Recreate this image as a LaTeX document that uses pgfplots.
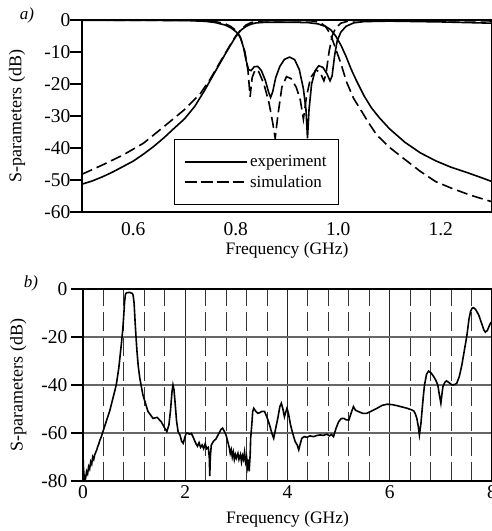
\documentclass[border=0pt]{standalone}
\usepackage{fontspec}
\setmainfont{Liberation Serif}
\usepackage{pgfplots}
\pgfplotsset{compat=1.18}
\pgfplotsset{
  myaxis/.style={
    scale only axis,
    axis line style={line width=1.3pt},
    tick label style={font=\fontsize{19.5}{22}\selectfont},
    /pgf/number format/assume math mode=true,
    tick align=outside,
    major tick length=12pt,
    ytick style={line width=1.3pt,black},
    xtick style={draw=none},
    every axis y label/.style={at={(axis description cs:-0.1585,0.5)},rotate=90,anchor=center,font=\fontsize{18}{22}\selectfont},
    every axis x label/.style={at={(axis description cs:0.5,0)},anchor=center,yshift=-38pt,font=\fontsize{17.5}{22}\selectfont},
  },
  curve/.style={black,line width=1.6pt},
  sim/.style={black,line width=1.6pt,dash pattern=on 11pt off 5pt},
}
\begin{document}
\begin{tikzpicture}[x=1pt,y=1pt]
\begin{axis}[myaxis,
  at={(82pt,319pt)}, anchor=south west, width=410pt, height=192pt,
  xmin=0.5, xmax=1.3, ymin=-60, ymax=0,
  xtick={0.6,0.8,1.0,1.2},
  xticklabel style={yshift=5pt,/pgf/number format/.cd,fixed,fixed zerofill,precision=1},
  yticklabel style={xshift=4pt},
  ytick={-60,-50,-40,-30,-20,-10,0},
  xlabel={Frequency (GHz)}, ylabel={S-parameters (dB)},
  legend style={at={(axis cs:0.6795,-57.8)}, anchor=south west, draw=black, line width=0.9pt,
    font=\fontsize{17}{20}\selectfont, inner xsep=10pt, inner ysep=14pt, row sep=3pt},
  legend cell align=left,
  legend image code/.code={\path (-1pt,0pt) -- (61pt,0pt);\draw[#1] (0pt,0pt) -- (47pt,0pt);},
]
\addplot[curve] coordinates {
(0.50,-51.3)(0.52,-50.3)(0.54,-49.0)(0.56,-47.5)(0.58,-45.8)(0.60,-44.1)(0.62,-41.9)
(0.64,-39.5)(0.66,-36.8)(0.68,-33.8)(0.70,-30.9)(0.72,-27.0)(0.74,-21.8)(0.76,-16.1)
(0.78,-10.5)(0.79,-7.8)(0.80,-5.2)(0.81,-3.2)(0.82,-2.0)(0.83,-1.3)(0.84,-0.9)(0.86,-0.7)
(0.90,-0.7)(0.94,-0.8)(0.96,-1.2)(0.975,-2.0)(0.985,-3.0)(0.995,-5.0)(1.005,-7.8)
(1.015,-11.3)(1.025,-15.3)(1.035,-18.8)(1.05,-23.6)(1.065,-27.5)(1.08,-30.5)(1.10,-34.0)
(1.13,-38.2)(1.16,-41.5)(1.19,-44.0)(1.22,-46.0)(1.25,-47.6)(1.28,-49.3)(1.30,-50.5)};
\addlegendentry{experiment}
\addplot[sim] coordinates {
(0.50,-48.2)(0.54,-45.3)(0.58,-42.2)(0.62,-38.5)(0.66,-33.3)(0.70,-28.0)(0.73,-23.2)
(0.75,-18.5)(0.77,-13.0)(0.79,-7.6)(0.80,-5.0)(0.81,-3.0)(0.82,-1.6)(0.83,-0.8)(0.85,-0.3)
(0.90,-0.2)(0.95,-0.3)(0.965,-0.8)(0.975,-2.0)(0.985,-4.5)(0.997,-9.9)(1.005,-13.5)
(1.016,-19.3)(1.03,-24.5)(1.042,-27.6)(1.06,-32.3)(1.075,-35.9)(1.10,-39.8)(1.127,-43.2)
(1.16,-47.3)(1.19,-50.5)(1.22,-52.5)(1.257,-54.7)(1.30,-56.8)};
\addlegendentry{simulation}
\addplot[curve,forget plot] coordinates {
(0.50,-0.1)(0.70,-0.15)(0.74,-0.4)(0.76,-0.8)(0.78,-1.6)(0.79,-2.4)(0.80,-3.6)(0.808,-5)
(0.815,-8.5)(0.820,-12.5)(0.825,-15.5)(0.830,-15.8)(0.836,-14.6)(0.843,-14.5)(0.850,-15.8)
(0.858,-19)(0.864,-22.5)(0.868,-24.2)(0.872,-22.5)(0.878,-18)(0.886,-14.5)(0.895,-12.3)
(0.905,-11.6)(0.915,-12.4)(0.924,-15.5)(0.932,-21.5)(0.937,-28)(0.940,-37)(0.943,-28)
(0.948,-20)(0.955,-15.8)(0.962,-14.3)(0.970,-14.8)(0.978,-16.8)(0.984,-19)(0.988,-17.5)
(0.993,-11)(0.998,-6.5)(1.005,-3.8)(1.015,-2.0)(1.03,-0.9)(1.05,-0.5)(1.10,-0.35)
(1.20,-0.6)(1.30,-1.0)};
\addplot[sim,forget plot] coordinates {
(0.50,-0.05)(0.72,-0.1)(0.76,-0.5)(0.78,-1.2)(0.79,-2.0)(0.80,-3.2)(0.81,-5.8)(0.818,-10)
(0.824,-16)(0.828,-24)(0.832,-18)(0.838,-15.5)(0.845,-16.2)(0.855,-20)(0.865,-26)
(0.872,-32)(0.877,-37)(0.882,-30)(0.89,-21)(0.899,-17.7)(0.908,-18.3)(0.918,-21)
(0.926,-25)(0.932,-31)(0.938,-24)(0.946,-18)(0.957,-15.6)(0.965,-16.5)(0.972,-19)
(0.976,-17)(0.982,-10)(0.988,-5)(0.995,-2.5)(1.005,-1.0)(1.02,-0.3)(1.05,-0.1)(1.30,-0.3)};
\end{axis}
\begin{axis}[myaxis,
  at={(83pt,50pt)}, anchor=south west, width=409pt, height=192pt,
  xmin=0, xmax=8, ymin=-80, ymax=0,
  xtick={0,2,4,6,8}, ytick={-80,-60,-40,-20,0},
  xticklabel style={yshift=11pt},
  minor xtick={0.4,0.8,1.2,1.6,2.4,2.8,3.2,3.6,4.4,4.8,5.2,5.6,6.4,6.8,7.2,7.6},
  minor tick length=0pt,
  xmajorgrids, ymajorgrids, xminorgrids,
  x grid style={black!85,line width=1pt},
  y grid style={black!60,line width=1.4pt},
  minor x grid style={black!80,line width=1pt,dash pattern=on 19pt off 6pt},
  xlabel={Frequency (GHz)}, ylabel={S-parameters (dB)},
]
\addplot[curve] coordinates {
(0.00,-69)(0.01,-75)(0.03,-80)(0.05,-79)(0.07,-76)(0.09,-77)(0.11,-74)(0.13,-75)(0.15,-72)
(0.17,-73)(0.19,-70)(0.21,-71)(0.23,-69)(0.25,-68)(0.27,-67)(0.29,-65.5)(0.31,-64.5)
(0.33,-63)(0.36,-61.5)(0.39,-59.4)(0.45,-55.5)(0.52,-51)(0.58,-46)(0.65,-40)(0.70,-33)
(0.75,-23)(0.78,-16.4)(0.80,-10)(0.815,-5)(0.83,-2.2)(0.85,-1.6)(0.91,-1.4)(0.96,-1.8)
(0.98,-2.5)(1.00,-6)(1.02,-14)(1.04,-21)(1.056,-26)(1.08,-32)(1.11,-37)(1.17,-44)
(1.27,-51)(1.37,-53.9)(1.45,-53.5)(1.53,-55.3)(1.60,-58)(1.64,-59.4)(1.68,-56.7)
(1.71,-51)(1.74,-43)(1.76,-40)(1.78,-42)(1.80,-47)(1.83,-55)(1.86,-59.4)(1.90,-61)
(1.93,-63.5)(1.96,-64.3)(1.99,-62)(2.02,-60)(2.05,-60.1)(2.08,-60.5)(2.12,-60.2)
(2.15,-61.5)(2.18,-63)(2.21,-64.5)(2.24,-65.5)(2.27,-64)(2.30,-66)(2.33,-65)(2.36,-66.5)
(2.39,-64.5)(2.42,-66.5)(2.45,-66)(2.47,-70)(2.48,-78)(2.49,-70)(2.51,-65)(2.55,-63.5)
(2.60,-62.5)(2.65,-60.5)(2.70,-58.5)(2.73,-58)(2.77,-59.5)(2.80,-61)(2.83,-63.5)
(2.86,-66)(2.88,-68.5)(2.90,-67)(2.92,-70)(2.94,-68)(2.96,-71)(2.98,-69)(3.00,-70.5)
(3.03,-68.5)(3.05,-71)(3.08,-69)(3.10,-72)(3.12,-69.5)(3.14,-71)(3.16,-68)(3.18,-72)
(3.20,-70)(3.22,-74)(3.24,-71)(3.25,-76)(3.27,-69)(3.28,-62)(3.30,-57)(3.32,-51)
(3.34,-49.7)(3.38,-51)(3.42,-51.8)(3.46,-51.5)(3.50,-51)(3.55,-51)(3.60,-53.5)
(3.65,-56.7)(3.70,-60.5)(3.73,-62.2)(3.77,-58)(3.81,-53.9)(3.85,-49)(3.88,-47.6)
(3.91,-50)(3.94,-53.2)(3.97,-51)(3.99,-49.7)(4.02,-52)(4.06,-56.7)(4.10,-60)(4.15,-63.6)
(4.19,-65)(4.22,-67)(4.25,-64.5)(4.28,-62.2)(4.33,-61.5)(4.38,-61.8)(4.44,-61.2)
(4.51,-61.5)(4.58,-61)(4.64,-60.8)(4.70,-61)(4.77,-60.5)(4.82,-61.2)(4.86,-60.6)
(4.90,-61.5)(4.95,-58)(5.00,-55.3)(5.05,-54)(5.10,-53.9)(5.15,-54.5)(5.20,-54.6)
(5.24,-52)(5.29,-49)(5.33,-50.5)(5.39,-51.1)(5.47,-51.8)(5.55,-51.8)(5.65,-50.8)
(5.75,-49.7)(5.85,-48.5)(5.95,-48)(6.05,-48.2)(6.14,-48.6)(6.25,-49.2)(6.34,-49.7)
(6.42,-50.3)(6.47,-50.8)(6.50,-52)(6.53,-53.9)(6.56,-57.5)(6.58,-60.8)(6.61,-56)
(6.63,-51.1)(6.66,-44)(6.68,-40)(6.72,-35.5)(6.76,-34.2)(6.81,-35)(6.86,-36.5)(6.90,-38)
(6.94,-40)(6.97,-44)(7.00,-47.6)(7.02,-44)(7.04,-40.7)(7.08,-38.8)(7.11,-38.3)(7.16,-39)
(7.22,-40)(7.27,-39.8)(7.31,-39.3)(7.36,-36.5)(7.41,-31.7)(7.46,-25.5)(7.51,-19.2)
(7.55,-12.5)(7.58,-9.4)(7.61,-8.0)(7.64,-7.8)(7.68,-8.5)(7.74,-10.8)(7.80,-14.5)
(7.84,-17)(7.87,-18)(7.91,-17.2)(7.95,-15.2)(7.97,-14.3)(8.00,-13.5)};
\end{axis}
\node[font=\fontsize{17}{20}\selectfont\itshape] at (27pt,516pt) {a)};
\node[font=\fontsize{17}{20}\selectfont\itshape] at (31pt,248pt) {b)};
\pgfresetboundingbox
\useasboundingbox (0,0) rectangle (492pt,531pt);
\end{tikzpicture}
\end{document}
